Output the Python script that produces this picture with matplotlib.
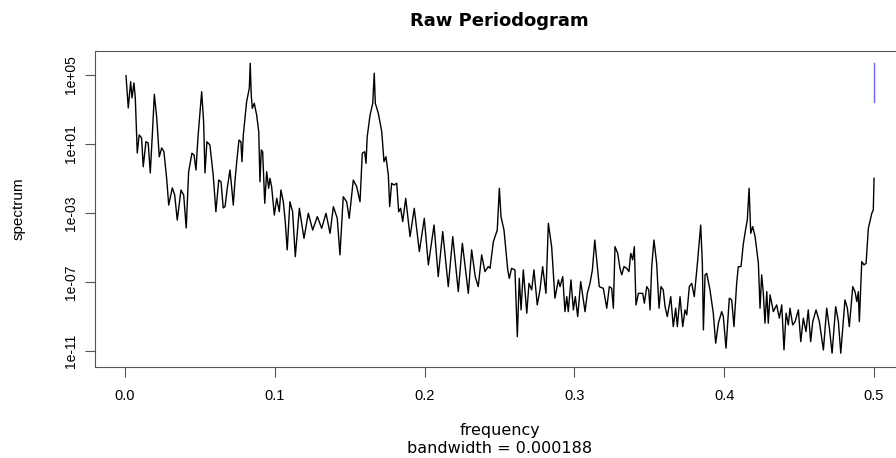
import numpy as np
import matplotlib
matplotlib.use("Agg")
import matplotlib.pyplot as plt

# frequency / log10(spectrum)
freq = [0.0007, 0.0022, 0.0038, 0.0047, 0.0060, 0.0069, 0.0078, 0.0082, 0.0095, 0.0111,
        0.0122, 0.0140, 0.0155, 0.0169, 0.0185, 0.0196, 0.0212, 0.0229, 0.0245, 0.0260,
        0.0278, 0.0292, 0.0316, 0.0332, 0.0349, 0.0374, 0.0392, 0.0409, 0.0425, 0.0447,
        0.0461, 0.0474, 0.0487, 0.0512, 0.0525, 0.0534, 0.0547, 0.0567, 0.0589, 0.0607,
        0.0626, 0.0641, 0.0656, 0.0668, 0.0683, 0.0701, 0.0714, 0.0723, 0.0734, 0.0746,
        0.0761, 0.0774, 0.0781, 0.0790, 0.0812, 0.0830, 0.0836, 0.0843, 0.0850, 0.0863,
        0.0879, 0.0893, 0.0901, 0.0910, 0.0919, 0.0933, 0.0946, 0.0959, 0.0968, 0.0979,
        0.0997, 0.1013, 0.1030, 0.1041, 0.1057, 0.1070, 0.1083, 0.1101, 0.1119, 0.1137,
        0.1164, 0.1195, 0.1224, 0.1253, 0.1284, 0.1313, 0.1342, 0.1369, 0.1391, 0.1417,
        0.1435, 0.1457, 0.1480, 0.1497, 0.1524, 0.1547, 0.1569, 0.1584, 0.1600, 0.1609,
        0.1617, 0.1636, 0.1654, 0.1664, 0.1671, 0.1691, 0.1714, 0.1729, 0.1742, 0.1758,
        0.1767, 0.1780, 0.1796, 0.1814, 0.1827, 0.1840, 0.1854, 0.1874, 0.1903, 0.1931,
        0.1965, 0.1998, 0.2025, 0.2063, 0.2091, 0.2121, 0.2158, 0.2188, 0.2225, 0.2252,
        0.2292, 0.2314, 0.2338, 0.2358, 0.2381, 0.2403, 0.2425, 0.2437, 0.2459, 0.2485,
        0.2499, 0.2510, 0.2530, 0.2555, 0.2565, 0.2581, 0.2603, 0.2619, 0.2632, 0.2644,
        0.2659, 0.2682, 0.2697, 0.2715, 0.2730, 0.2752, 0.2770, 0.2788, 0.2810, 0.2826,
        0.2848, 0.2870, 0.2893, 0.2904, 0.2922, 0.2937, 0.2949, 0.2959, 0.2977, 0.2993,
        0.3006, 0.3022, 0.3042, 0.3071, 0.3086, 0.3104, 0.3120, 0.3136, 0.3149, 0.3166,
        0.3193, 0.3216, 0.3233, 0.3249, 0.3260, 0.3271, 0.3289, 0.3304, 0.3316, 0.3331,
        0.3349, 0.3364, 0.3376, 0.3389, 0.3400, 0.3411, 0.3427, 0.3456, 0.3467, 0.3483,
        0.3496, 0.3505, 0.3516, 0.3531, 0.3549, 0.3565, 0.3578, 0.3593, 0.3605, 0.3620,
        0.3643, 0.3660, 0.3676, 0.3687, 0.3705, 0.3723, 0.3738, 0.3750, 0.3767, 0.3783,
        0.3800, 0.3821, 0.3843, 0.3854, 0.3861, 0.3872, 0.3883, 0.3905, 0.3927, 0.3943,
        0.3961, 0.3983, 0.3994, 0.4012, 0.4034, 0.4050, 0.4065, 0.4083, 0.4094, 0.4112,
        0.4128, 0.4144, 0.4154, 0.4166, 0.4177, 0.4190, 0.4206, 0.4228, 0.4239, 0.4250,
        0.4261, 0.4272, 0.4284, 0.4294, 0.4306, 0.4328, 0.4350, 0.4368, 0.4384, 0.4399,
        0.4413, 0.4428, 0.4439, 0.4457, 0.4473, 0.4495, 0.4511, 0.4528, 0.4546, 0.4561,
        0.4577, 0.4591, 0.4613, 0.4635, 0.4662, 0.4684, 0.4702, 0.4720, 0.4744, 0.4762,
        0.4778, 0.4806, 0.4822, 0.4835, 0.4858, 0.4873, 0.4885, 0.4895, 0.4902, 0.4918,
        0.4933, 0.4947, 0.4962, 0.4985, 0.4995, 0.5000]
log_spec = [4.96, 3.09, 4.61, 3.67, 4.54, 3.67, 1.52, 0.48, 1.52, 1.35,
            -0.32, 1.13, 1.06, -0.68, 1.93, 3.88, 2.51, 0.26, 0.77, 0.55,
            -0.97, -2.54, -1.55, -1.96, -3.41, -1.67, -1.96, -3.87, -0.61, 0.46,
            0.36, -0.51, 1.35, 4.03, 2.29, -0.68, 1.13, 0.94, -0.80, -2.93,
            -1.09, -1.19, -2.71, -2.63, -1.55, -0.51, -1.67, -2.54, -1.19, -0.03,
            1.23, 1.13, -0.03, 1.52, 3.45, 4.23, 5.68, 3.84, 3.07, 3.36,
            2.68, 1.71, -1.19, 0.65, 0.55, -2.44, -0.61, -1.57, -0.99, -1.48,
            -3.12, -2.15, -2.93, -1.67, -2.35, -3.50, -5.14, -2.35, -2.93, -5.53,
            -2.73, -4.47, -3.02, -3.99, -3.21, -3.89, -3.02, -4.18, -2.63, -3.31,
            -5.43, -2.06, -2.35, -3.31, -1.09, -1.48, -2.35, 0.46, 0.55, -0.12,
            1.42, 2.68, 3.36, 5.10, 3.36, 2.78, 1.71, -0.03, 0.26, -0.80,
            -2.63, -1.28, -1.38, -1.28, -2.93, -2.73, -3.50, -2.15, -4.37, -2.73,
            -5.24, -3.31, -6.01, -3.70, -6.69, -4.08, -7.27, -4.37, -7.56, -4.76,
            -7.66, -5.14, -6.69, -7.27, -5.43, -6.40, -6.11, -6.21, -4.66, -3.99,
            -1.57, -3.21, -3.99, -6.30, -6.79, -6.21, -6.30, -10.17, -6.79, -8.62,
            -6.30, -8.81, -7.08, -7.46, -6.30, -8.33, -7.46, -6.11, -7.66, -3.60,
            -4.95, -7.94, -6.88, -7.27, -6.69, -8.72, -7.85, -8.72, -6.88, -8.62,
            -7.85, -9.01, -6.98, -8.72, -7.66, -7.08, -6.30, -4.57, -5.72, -7.27,
            -7.37, -8.52, -7.27, -7.37, -8.52, -4.95, -5.34, -6.21, -6.59, -6.11,
            -6.21, -6.40, -5.34, -5.72, -4.95, -8.33, -7.66, -7.66, -8.23, -7.27,
            -7.46, -8.62, -6.11, -4.57, -5.92, -8.52, -7.27, -7.46, -8.43, -9.01,
            -7.85, -9.59, -8.52, -9.59, -7.85, -9.59, -8.62, -8.91, -7.27, -7.08,
            -7.85, -5.92, -3.70, -5.92, -9.78, -6.59, -6.50, -7.46, -8.81, -10.55,
            -9.39, -8.72, -9.01, -10.84, -7.94, -8.04, -9.59, -7.08, -6.11, -6.11,
            -4.76, -3.89, -3.41, -1.57, -4.18, -3.79, -4.37, -5.92, -8.52, -6.59,
            -7.66, -9.39, -7.56, -9.39, -7.75, -8.72, -8.33, -9.10, -8.33, -10.94,
            -8.81, -9.49, -8.52, -9.49, -9.30, -8.62, -10.46, -9.10, -9.88, -8.62,
            -10.46, -9.30, -8.62, -9.30, -10.94, -8.52, -9.68, -11.13, -8.43, -9.30,
            -11.13, -8.04, -8.52, -9.59, -7.27, -7.56, -8.14, -7.56, -9.30, -5.82,
            -6.01, -5.92, -3.89, -3.02, -2.83, -0.99]

# confidence bar drawn at top right (log10 limits)
ci_freq = 0.5
ci_log = [3.45, 5.68]

x_ticks = [0.0, 0.1, 0.2, 0.3, 0.4, 0.5]
y_ticks_log = [5, 1, -3, -7, -11]
y_tick_labels = ["1e+05", "1e+01", "1e-03", "1e-07", "1e-11"]
bandwidth = 0.000188

plt.rcParams['font.family'] = ['Liberation Sans', 'DejaVu Sans']

fig = plt.figure(figsize=(8.96, 4.58), dpi=100)
ax = fig.add_axes([95/896, 91/458, 809/896, 316/458])

spec = 10 ** np.array(log_spec)
ax.plot(freq, spec, color="black", lw=1.0)
ax.plot([ci_freq, ci_freq], 10 ** np.array(ci_log), color="#6666ee", lw=1)

ax.set_yscale("log")
ax.set_xlim(-0.02, 0.52)
ax.set_ylim(10 ** -11.93, 10 ** 6.39)
ax.set_xticks(x_ticks)
ax.set_xticklabels([f"{v:.1f}" for v in x_ticks], fontsize=10.5)
ax.set_yticks([10.0 ** v for v in y_ticks_log])
ax.set_yticklabels(y_tick_labels, fontsize=10, rotation=90, va="center")
ax.minorticks_off()
ax.tick_params(direction="out", length=7, width=0.8, color="#555555")
ax.tick_params(axis="x", pad=9)
ax.tick_params(axis="y", pad=5)
for s in ax.spines.values():
    s.set_color("#555555")
    s.set_linewidth(0.8)

ax.set_xlabel(f"frequency\nbandwidth = {bandwidth:.6f}", fontsize=11.5, labelpad=14,
              linespacing=1.25, family="DejaVu Sans")
ax.set_ylabel("spectrum", fontsize=11)
ax.yaxis.set_label_coords(-0.086, 0.5)
ax.set_title("Raw Periodogram", fontsize=13, fontweight="bold", pad=18,
             family="DejaVu Sans")

fig.savefig("out.png", dpi=100)
